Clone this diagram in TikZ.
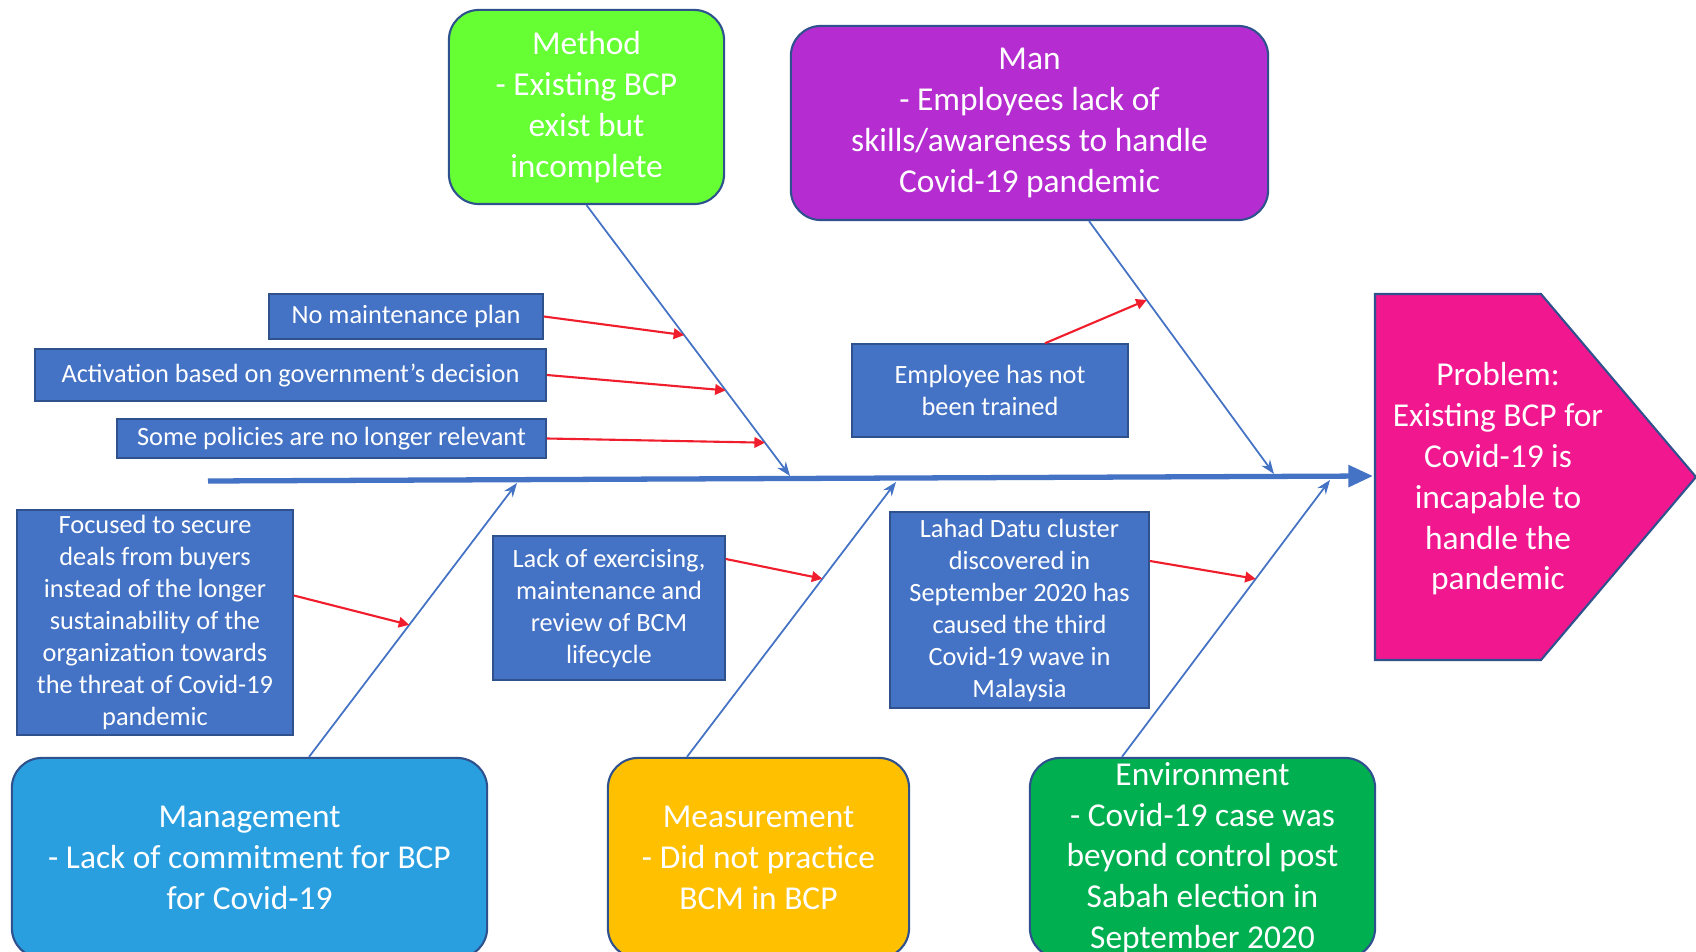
\documentclass[tikz,border=0pt]{standalone}
\usepackage{fontspec}
\setmainfont{Carlito}
\usetikzlibrary{arrows.meta}

\definecolor{boxblue}{HTML}{4472C4}
\definecolor{edgeblue}{HTML}{2F528F}
\definecolor{methodgreen}{HTML}{66FF33}
\definecolor{manpurple}{HTML}{B52DD0}
\definecolor{mgmtblue}{HTML}{299FE0}
\definecolor{measgold}{HTML}{FFC000}
\definecolor{envgreen}{HTML}{00B050}
\definecolor{probpink}{HTML}{F0178F}
\definecolor{arrowred}{HTML}{F01E2C}

\tikzset{
	bigbox/.style={draw=edgeblue, line width=0.6pt, rounded corners=0.3cm, text=white,
		align=center, inner sep=0pt, font=\fontsize{9.5}{11.6}\selectfont},
	causebox/.style={draw=edgeblue, fill=boxblue, line width=0.4pt, text=white,
		align=center, inner sep=0pt, font=\fontsize{7.5}{9.1}\selectfont},
	bone/.style={draw=boxblue, line width=0.5pt, -{Stealth[length=4pt,width=3pt]}},
	hint/.style={draw=arrowred, line width=0.6pt, -{Triangle[length=3pt,width=3pt]}},
	spine/.style={draw=boxblue, line width=1.5pt, -{Triangle[length=7pt,width=6pt]}}
}

\begin{document}
\begin{tikzpicture}[x=0.01cm, y=-0.01cm]

	% ------------------------------------------------
	% Ensure the dimensions of graphic are appropriate
	\clip (0,0) rectangle (1696,952);
	\fill[white] (0,0) rectangle (1696,952);

	% ------------------------------------------------
	% Relevant coordinates
	\coordinate (spinetail) at (208,481);
	\coordinate (probwest)  at (1373,476);

	\coordinate (methodfoot) at (790,476);
	\coordinate (manfoot)    at (1274,474);
	\coordinate (mgmtfoot)   at (517,483);
	\coordinate (measfoot)   at (896,482);
	\coordinate (envfoot)    at (1330,480);

	% ----------------
	% Category boxes
	\node[bigbox, fill=methodgreen, minimum width=2.75cm, minimum height=1.94cm] (method) at (586.5,107)
		{Method\\- Existing BCP\\exist but\\incomplete};
	\node[bigbox, fill=manpurple, minimum width=4.77cm, minimum height=1.94cm] (man) at (1029.5,123)
		{Man\\- Employees lack of\\skills/awareness to handle\\Covid-19 pandemic};
	\node[bigbox, fill=mgmtblue, minimum width=4.75cm, minimum height=2.0cm] (mgmt) at (249.5,858)
		{Management\\- Lack of commitment for BCP\\for Covid-19};
	\node[bigbox, fill=measgold, minimum width=3.01cm, minimum height=2.0cm] (meas) at (758.5,858)
		{Measurement\\- Did not practice\\BCM in BCP};
	\node[bigbox, fill=envgreen, minimum width=3.45cm, minimum height=2.0cm] (env) at (1202.5,858)
		{Environment\\- Covid-19 case was\\beyond control post\\Sabah election in\\September 2020};

	% ----------------
	% Problem head
	\draw[draw=edgeblue, line width=0.6pt, fill=probpink]
		(1375,294) -- (1541,294) -- (1696,477) -- (1541,660) -- (1375,660) -- cycle;
	\node[text=white, align=center, font=\fontsize{9.5}{11.6}\selectfont] (problem) at (1498,479)
		{Problem:\\Existing BCP for\\Covid-19 is\\incapable to\\handle the\\pandemic};

	% ----------------
	% Cause boxes
	\node[causebox, minimum width=2.74cm, minimum height=0.45cm] (nomaint) at (406,316.5)
		{No maintenance plan};
	\node[causebox, minimum width=5.11cm, minimum height=0.52cm] (activ) at (290.5,375)
		{Activation based on government’s decision};
	\node[causebox, minimum width=4.29cm, minimum height=0.39cm] (policies) at (331.5,438.5)
		{Some policies are no longer relevant};
	\node[causebox, minimum width=2.76cm, minimum height=0.93cm] (employee) at (990,390.5)
		{Employee has not\\been trained};
	\node[causebox, minimum width=2.76cm, minimum height=2.25cm] (focused) at (155,622.5)
		{Focused to secure\\deals from buyers\\instead of the longer\\sustainability of the\\organization towards\\the threat of Covid-19\\pandemic};
	\node[causebox, minimum width=2.32cm, minimum height=1.44cm] (lackex) at (609,608)
		{Lack of exercising,\\maintenance and\\review of BCM\\lifecycle};
	\node[causebox, minimum width=2.59cm, minimum height=1.96cm] (lahad) at (1019.5,610)
		{Lahad Datu cluster\\discovered in\\September 2020 has\\caused the third\\Covid-19 wave in\\Malaysia};

	%%%%%%%%%%%%%%%%%%%%%%%%%%%%%%%%%%%%%%%%%
	%Bones
	\draw[spine] (spinetail) -- (probwest);

	\draw[bone] (method.south) -- coordinate[pos=0.48] (m1) coordinate[pos=0.684] (m2)
		coordinate[pos=0.877] (m3) (methodfoot);
	\draw[bone] ([xshift=0.595cm]man.south) -- coordinate[pos=0.312] (e1) (manfoot);
	\draw[bone] ([xshift=0.595cm]mgmt.north) -- coordinate[pos=0.482] (g1) (mgmtfoot);
	\draw[bone] ([xshift=-0.715cm]meas.north) -- coordinate[pos=0.648] (s1) (measfoot);
	\draw[bone] ([xshift=-0.805cm]env.north) -- coordinate[pos=0.643] (v1) (envfoot);

	% ----------------
	% Cause arrows
	\draw[hint] (nomaint.east) -- (m1);
	\draw[hint] (activ.east) -- (m2);
	\draw[hint] (policies.east) -- (m3);
	\draw[hint] ([xshift=0.55cm]employee.north) -- (e1);
	\draw[hint] ([yshift=0.27cm]focused.east) -- (g1);
	\draw[hint] ([yshift=0.49cm]lackex.east) -- (s1);
	\draw[hint] ([yshift=0.49cm]lahad.east) -- (v1);

\end{tikzpicture}
\end{document}
